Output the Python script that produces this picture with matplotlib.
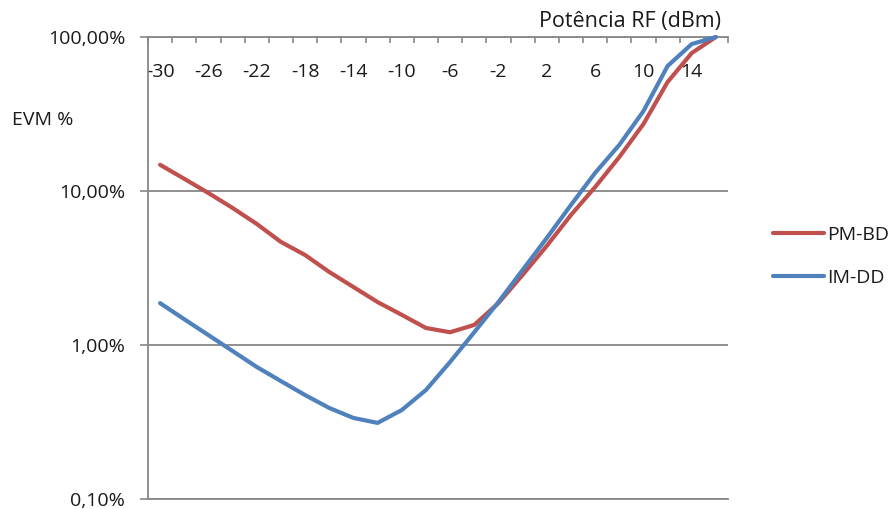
import numpy as np
import matplotlib
matplotlib.use("Agg")
import matplotlib.pyplot as plt
from matplotlib.ticker import FixedLocator, NullLocator, FixedFormatter

# RF power (dBm) and measured EVM (%)
rf_power = [-30, -28, -26, -24, -22, -20, -18, -16, -14, -12, -10, -8,
            -6, -4, -2, 0, 2, 4, 6, 8, 10, 12, 14, 16]
evm_pm_bd = [14.8, 12.0, 9.7, 7.76, 6.11, 4.67, 3.84, 2.98, 2.38, 1.90, 1.57, 1.29,
             1.21, 1.35, 1.87, 2.85, 4.40, 6.98, 10.6, 16.6, 27.2, 51.0, 78.7, 100.0]
evm_im_dd = [1.87, 1.47, 1.16, 0.914, 0.72, 0.583, 0.473, 0.39, 0.336, 0.312, 0.378, 0.51,
             0.776, 1.21, 1.90, 3.07, 4.95, 8.11, 13.1, 19.9, 33.0, 64.8, 90.0, 100.0]

x_tick_values = [-30, -26, -22, -18, -14, -10, -6, -2, 2, 6, 10, 14]
x_tick_labels = ["-30", "-26", "-22", "-18", "-14", "-10", "-6", "-2", "2", "6", "10", "14"]
y_tick_values = [0.1, 1, 10, 100]
y_tick_labels = ["0,10%", "1,00%", "10,00%", "100,00%"]
series_names = ["PM-BD", "IM-DD"]
series_colors = ["#C0504D", "#4F81BD"]

plt.rcParams["font.family"] = ["Open Sans", "DejaVu Sans"]
text_color = "#1a1a1a"
axis_color = "#878787"
fs = 14

W, H = 896, 509
fig = plt.figure(figsize=(W / 100, H / 100), dpi=100)
ax = fig.add_axes([148 / W, 1 - 499 / H, 580 / W, 462 / H])

for vals, name, col in zip([evm_pm_bd, evm_im_dd], series_names, series_colors):
    ax.plot(rf_power, vals, color=col, lw=3.0, label=name, clip_on=False,
            solid_joinstyle="round", solid_capstyle="round", zorder=3)

ax.set_yscale("log")
ax.set_ylim(0.1, 100)
ax.set_xlim(-31, 17)

# y axis: decade ticks with percent labels
ax.yaxis.set_major_locator(FixedLocator(y_tick_values))
ax.yaxis.set_major_formatter(FixedFormatter(y_tick_labels))
ax.yaxis.set_minor_locator(NullLocator())
ax.tick_params(axis="y", which="major", direction="out", length=5.5, width=1.2,
               color=axis_color, pad=11, labelsize=fs, labelcolor=text_color)
ax.grid(axis="y", which="major", color=axis_color, lw=1.3)
ax.set_axisbelow(True)

# x axis on top: category boundary marks, labels drawn inside the plot
ax.xaxis.tick_top()
ax.xaxis.set_major_locator(FixedLocator(np.arange(-31, 18, 2)))
ax.xaxis.set_major_formatter(FixedFormatter([""] * 25))
ax.xaxis.set_minor_locator(FixedLocator(x_tick_values))
ax.xaxis.set_minor_formatter(FixedFormatter(x_tick_labels))
ax.tick_params(axis="x", which="major", direction="in", length=4.5, width=1.2,
               color=axis_color, top=True, bottom=False, labeltop=True, labelbottom=False)
ax.tick_params(axis="x", which="minor", length=0, top=True, bottom=False,
               labeltop=True, labelbottom=False, pad=-31.5, labelsize=fs, labelcolor=text_color)

for side in ["left", "top", "bottom"]:
    ax.spines[side].set_color(axis_color)
    ax.spines[side].set_linewidth(1.3)
ax.spines["right"].set_visible(False)

fig.text(12 / W, 1 - 120 / H, "EVM %", ha="left", va="center", fontsize=fs, color=text_color)
fig.text(721 / W, 1 - 26.7 / H, "Potência RF (dBm)", ha="right", va="baseline",
         fontsize=15.5, color=text_color)

leg = ax.legend(loc="upper left", bbox_to_anchor=(773 / W, 1 - 226 / H),
                bbox_transform=fig.transFigure, frameon=False, fontsize=fs,
                handlelength=2.6, handletextpad=0.2, labelspacing=1.3,
                borderpad=0, borderaxespad=0)
for t in leg.get_texts():
    t.set_color(text_color)

fig.savefig("out.png", dpi=100)
